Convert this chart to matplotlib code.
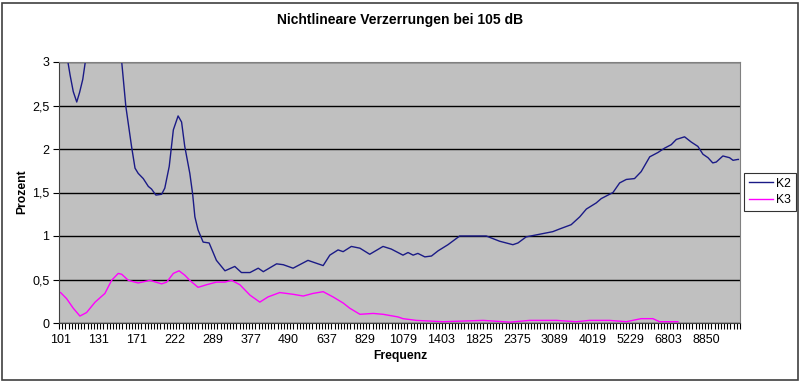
import matplotlib
matplotlib.use("Agg")
import matplotlib.pyplot as plt
import matplotlib.ticker as tick
import numpy as np
from matplotlib.patches import Rectangle

plt.rcParams['font.family'] = ['Liberation Sans', 'DejaVu Sans']

# category axis: 215 frequency bins, every 12th bin labelled
n_cat = 215
freq_labels = ['101', '131', '171', '222', '289', '377', '490', '637', '829',
               '1079', '1403', '1825', '2375', '3089', '4019', '5229', '6803', '8850']
label_step = 12

# K2 (category position, percent) - values above 3 are cut off by the axis
k2_pos = [0, 1, 2, 3, 4, 5.1, 6, 7, 8, 9, 10, 12, 15, 18, 19.3, 20.6, 22.4, 23.5, 24.5,
          26.1, 27.7, 28.7, 30.1, 31.9, 32.9, 34.3, 35.6, 37.1, 38.2, 39.2, 40.8, 41.7,
          42.4, 43.4, 45.0, 46.9, 49.2, 51.9, 55.0, 57.1, 59.8, 62.4, 64.0, 68.2, 70.3,
          73.4, 78.1, 82.9, 85.0, 87.6, 89.2, 91.8, 94.5, 97.6, 101.8, 104.4, 108.1,
          109.7, 111.3, 112.8, 115.0, 117.1, 119.2, 122.3, 126.0, 130.0, 134.4, 138.6,
          142.8, 144.4, 147.0, 151.2, 155.4, 157.5, 161.2, 163.9, 166.0, 169.1, 170.7,
          174.4, 176.5, 178.6, 181.2, 183.3, 186.0, 188.6, 190.7, 192.8, 194.4, 197.0,
          199.1, 201.2, 202.8, 204.4, 205.9, 207.0, 209.1, 211.2, 212.3, 213.8, 214]
k2_val = [3.7, 3.35, 3.07, 2.85, 2.66, 2.54, 2.65, 2.8, 3.05, 3.4, 3.8, 4.3, 4.5, 3.3,
          3.0, 2.49, 2.03, 1.78, 1.72, 1.66, 1.57, 1.54, 1.47, 1.48, 1.55, 1.80, 2.22,
          2.38, 2.31, 2.03, 1.72, 1.48, 1.22, 1.07, 0.93, 0.92, 0.72, 0.60, 0.65, 0.58,
          0.58, 0.63, 0.59, 0.68, 0.67, 0.63, 0.72, 0.66, 0.78, 0.84, 0.82, 0.88, 0.86,
          0.79, 0.88, 0.85, 0.78, 0.81, 0.78, 0.80, 0.76, 0.77, 0.83, 0.90, 1.0, 1.0, 1.0,
          0.94, 0.90, 0.92, 0.99, 1.02, 1.05, 1.08, 1.13, 1.22, 1.31, 1.38, 1.43, 1.50,
          1.61, 1.65, 1.66, 1.74, 1.91, 1.96, 2.01, 2.05, 2.11, 2.14, 2.08, 2.03, 1.94,
          1.90, 1.84, 1.85, 1.92, 1.90, 1.87, 1.88, 1.88]

# K3 (category position, percent) - stops before the last bins
k3_pos = [0, 1.9, 4.0, 6.1, 8.2, 10.9, 14.0, 16.1, 18.2, 19.3, 21.4, 24.5, 28.2, 31.9,
          33.5, 35.6, 37.4, 39.2, 40.8, 43.4, 46.1, 49.2, 51.9, 54.0, 56.6, 59.8, 62.9,
          65.5, 69.2, 73.4, 76.6, 79.7, 82.9, 86.0, 89.2, 91.3, 94.5, 98.7, 101.8, 106.5,
          108.1, 112.3, 120.7, 133.4, 141.8, 148.1, 156.5, 162.8, 167.0, 173.3, 178.6,
          183.3, 187.0, 189.1, 194.9]
k3_val = [0.35, 0.28, 0.17, 0.08, 0.12, 0.24, 0.34, 0.49, 0.57, 0.56, 0.49, 0.46, 0.49,
          0.45, 0.47, 0.57, 0.60, 0.55, 0.49, 0.41, 0.44, 0.47, 0.47, 0.49, 0.44, 0.32,
          0.24, 0.30, 0.35, 0.33, 0.31, 0.34, 0.36, 0.30, 0.23, 0.17, 0.10, 0.11, 0.10,
          0.07, 0.05, 0.03, 0.015, 0.03, 0.01, 0.03, 0.03, 0.015, 0.03, 0.03, 0.015,
          0.05, 0.05, 0.015, 0.015]

fig = plt.figure(figsize=(8, 3.82), dpi=100)
ax = fig.add_axes([59/800, 1-323/382, 681/800, 261/382])
ax.set_facecolor('#c0c0c0')

ax.plot(k2_pos, k2_val, color='#1a1a86', lw=1, label='K2')
ax.plot(k3_pos, k3_val, color='#ff00ff', lw=1, label='K3')

ax.set_xlim(-0.5, n_cat - 0.5)
ax.set_ylim(0, 3)

ax.yaxis.set_major_locator(tick.MultipleLocator(0.5))
ax.yaxis.set_major_formatter(tick.FuncFormatter(lambda v, p: ('%g' % v).replace('.', ',')))
ax.grid(axis='y', color='black', lw=1)
ax.set_axisbelow(True)

ax.set_xticks(np.arange(0, len(freq_labels) * label_step, label_step))
ax.set_xticklabels(freq_labels)
ax.set_xticks(np.arange(n_cat + 1) - 0.5, minor=True)
ax.tick_params(axis='x', which='major', length=0, pad=8, labelsize=9)
ax.tick_params(axis='x', which='minor', length=4, width=0.8, color='black')
ax.tick_params(axis='y', length=4, width=0.8, labelsize=9, pad=3)

for s in ['top', 'right']:
    ax.spines[s].set_color('#808080')
for s in ['left', 'bottom']:
    ax.spines[s].set_color('#404040')

fig.text(0.5, 1-20/382, 'Nichtlineare Verzerrungen bei 105 dB', ha='center', va='center',
         fontsize=10, fontweight='bold')
fig.text(0.5, 1-356/382, 'Frequenz', ha='center', va='center', fontsize=8.7, fontweight='bold')
fig.text(22/800, 1-192/382, 'Prozent', ha='center', va='center', rotation=90,
         fontsize=8.7, fontweight='bold')

leg = fig.legend(loc='center', bbox_to_anchor=(770/800, 1-192/382), fontsize=8.7,
                 frameon=True, fancybox=False, edgecolor='black', handlelength=2.0,
                 handletextpad=0.3, borderpad=0.35, labelspacing=0.4, borderaxespad=0)
leg.get_frame().set_linewidth(0.8)

fig.patches.append(Rectangle((2/800, 2/382), 796/800, 377/382, transform=fig.transFigure,
                             fill=False, edgecolor='#404040', lw=1.2))

fig.savefig('out.png', dpi=100)
